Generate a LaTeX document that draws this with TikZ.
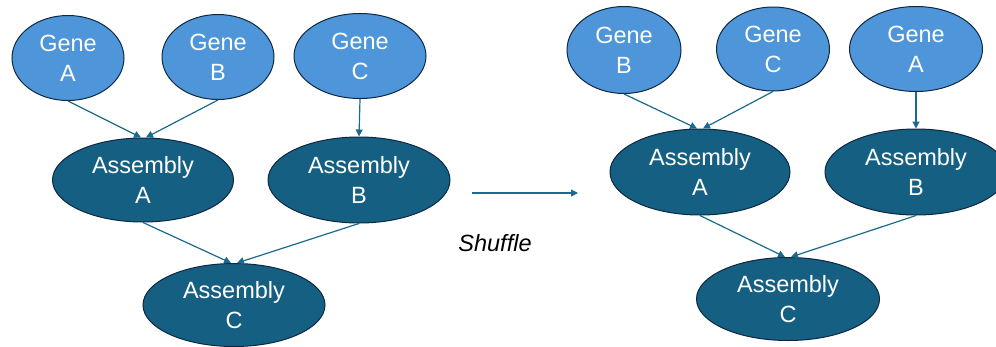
\documentclass[tikz,border=0pt]{standalone}
\usepackage{fontspec}
\setmainfont{Liberation Sans}
\usetikzlibrary{shapes.geometric,arrows.meta}
\definecolor{genefill}{HTML}{4E95D9}
\definecolor{asmfill}{HTML}{156082}
\definecolor{rim}{HTML}{0E2841}
\definecolor{link}{HTML}{1A6A8E}
\tikzset{
  gene/.style={ellipse, draw=rim, line width=1pt, fill=genefill, text=white,
    inner sep=0pt, align=center, font=\fontsize{23.5}{30}\selectfont},
  asm/.style={ellipse, draw=rim, line width=1pt, fill=asmfill, text=white,
    inner sep=0pt, align=center, font=\fontsize{23.5}{30}\selectfont},
  link/.style={draw=link, line width=1.2pt, -{Triangle[length=7pt,width=7pt]}}
}
\begin{document}
\begin{tikzpicture}[x=1pt,y=-1pt]
\useasboundingbox (0,0) rectangle (996,346);
% original order
\node[gene, minimum width=112, minimum height=85] (ga1) at (68,58) {Gene\\A};
\node[gene, minimum width=112, minimum height=85] (gb1) at (218,57) {Gene\\B};
\node[gene, minimum width=132, minimum height=85] (gc1) at (360,56) {Gene\\C};
\node[asm, minimum width=181, minimum height=84] (aa1) at (143,180) {Assembly\\A};
\node[asm, minimum width=182, minimum height=86] (ab1) at (359,180) {Assembly\\B};
\node[asm, minimum width=182, minimum height=83] (ac1) at (234,305) {Assembly\\C};
\draw[link] (ga1.south) -- ([xshift=-2pt]aa1.north);
\draw[link] (gb1.south) -- ([xshift=3pt]aa1.north);
\draw[link] (gc1.south) -- (ab1.north);
\draw[link] (aa1.south) -- ([xshift=-3pt]ac1.north);
\draw[link] (ab1.south) -- ([xshift=3pt]ac1.north);
% shuffle step
\coordinate (s0) at (472,193);
\coordinate (s1) at (578,193);
\draw[link] (s0) -- (s1);
\node[font=\fontsize{23.5}{30}\selectfont\itshape] (shuf) at (495,243) {Shuffle};
% shuffled order
\node[gene, minimum width=114, minimum height=87] (gb2) at (624,50) {Gene\\B};
\node[gene, minimum width=113, minimum height=84] (gc2) at (773,49) {Gene\\C};
\node[gene, minimum width=133, minimum height=85] (ga2) at (916,49) {Gene\\A};
\node[asm, minimum width=180, minimum height=86] (aa2) at (700,172) {Assembly\\A};
\node[asm, minimum width=182, minimum height=86] (ab2) at (916,172) {Assembly\\B};
\node[asm, minimum width=183, minimum height=83] (ac2) at (788,299) {Assembly\\C};
\draw[link] (gb2.south) -- ([xshift=-3pt]aa2.north);
\draw[link] (gc2.south) -- ([xshift=3pt]aa2.north);
\draw[link] (ga2.south) -- (ab2.north);
\draw[link] (aa2.south) -- ([xshift=-3pt]ac2.north);
\draw[link] (ab2.south) -- ([xshift=3pt]ac2.north);
\end{tikzpicture}
\end{document}
